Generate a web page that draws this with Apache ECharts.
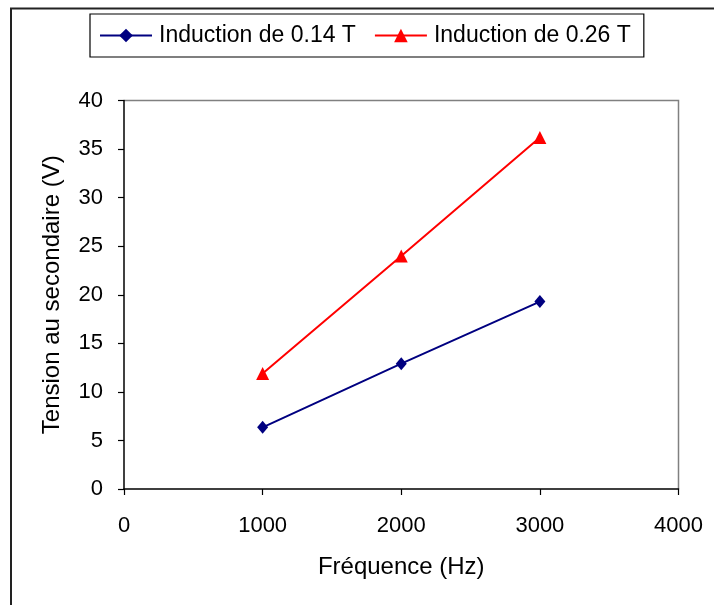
<!DOCTYPE html>
<html>
<head>
<meta charset="utf-8">
<script src="https://cdn.jsdelivr.net/npm/echarts@6/dist/echarts.min.js"></script>
<style>
  html, body { margin: 0; padding: 0; background: #fff; }
  #container { width: 714px; height: 605px; }
</style>
</head>
<body>
<div id="container"></div>
<script>
var frequences = [1000, 2000, 3000];
var tension014 = [6.35, 12.9, 19.3];
var tension026 = [11.9, 24.0, 36.2];
var seriesNames = ['Induction de 0.14 T', 'Induction de 0.26 T'];

var dom = document.getElementById('container');
var myChart = echarts.init(dom);

function pairs(xs, ys) {
  return xs.map(function(x, i) {
    return [x, ys[i]];
  });
}

var font = 'Liberation Sans, Arial, sans-serif';

var option = {
  backgroundColor: '#fff',
  animation: false,
  graphic: [{
    type: 'rect',
    shape: { x: 11, y: 8.5, width: 720, height: 620 },
    style: { fill: 'none', stroke: '#222', lineWidth: 2 },
    silent: true
  }, {
    // top and right border of the plot area
    type: 'polyline',
    shape: { points: [[124, 100.5], [678.5, 100.5], [678.5, 489]] },
    style: { fill: 'none', stroke: '#808080', lineWidth: 1.5 },
    silent: true
  }],
  legend: {
    left: 90,
    top: 14,
    padding: [10, 13, 10, 9],
    borderColor: '#000',
    borderWidth: 1.2,
    itemGap: 18,
    itemWidth: 52,
    itemHeight: 17,
    textStyle: { fontFamily: font, fontSize: 23, color: '#000', padding: [0, 0, 0, 2] },
    data: seriesNames
  },
  grid: {
    left: 124,
    right: 35.5,
    top: 100.5,
    bottom: 116
  },
  xAxis: {
    type: 'value',
    min: 0,
    max: 4000,
    interval: 1000,
    name: 'Fréquence (Hz)',
    nameLocation: 'middle',
    nameGap: 66,
    nameTextStyle: { fontFamily: font, fontSize: 24, color: '#000' },
    axisLine: { onZero: false, lineStyle: { color: '#000', width: 1.5 } },
    axisTick: { show: true, length: 6, lineStyle: { color: '#000', width: 1.2 } },
    axisLabel: {
      fontFamily: font, fontSize: 22, color: '#000', margin: 26,
      formatter: function(v) { return String(v); }
    },
    splitLine: { show: false }
  },
  yAxis: {
    type: 'value',
    min: 0,
    max: 40,
    interval: 5,
    name: 'Tension au secondaire (V)',
    nameLocation: 'middle',
    nameGap: 60,
    nameTextStyle: { fontFamily: font, fontSize: 24, color: '#000' },
    axisLine: { show: true, lineStyle: { color: '#000', width: 1.5 } },
    axisTick: { show: true, length: 6, lineStyle: { color: '#000', width: 1.2 } },
    axisLabel: { fontFamily: font, fontSize: 22, color: '#000', margin: 21 },
    splitLine: { show: false }
  },
  series: [{
    name: seriesNames[0],
    type: 'line',
    data: pairs(frequences, tension014),
    symbol: 'diamond',
    symbolSize: [11, 13],
    lineStyle: { color: '#000080', width: 2 },
    itemStyle: { color: '#000080' }
  }, {
    name: seriesNames[1],
    type: 'line',
    data: pairs(frequences, tension026),
    symbol: 'triangle',
    symbolSize: 13,
    lineStyle: { color: '#ff0000', width: 2 },
    itemStyle: { color: '#ff0000' }
  }]
};

myChart.setOption(option);
</script>
</body>
</html>
